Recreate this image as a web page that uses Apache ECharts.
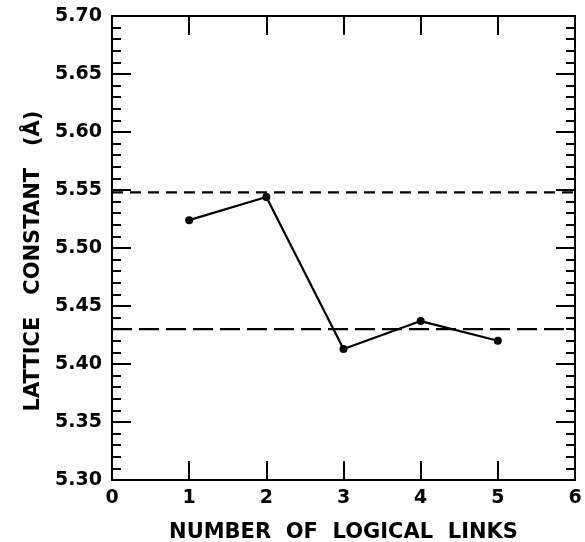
<!DOCTYPE html>
<html>
<head>
<meta charset="utf-8">
<script src="https://cdn.jsdelivr.net/npm/echarts@6/dist/echarts.min.js"></script>
<style>html,body{margin:0;padding:0;background:#fff;}#c{width:585px;height:542px;}</style>
</head>
<body>
<div id="c"></div>
<script>
var links = [1, 2, 3, 4, 5];
var latticeConstant = [5.524, 5.544, 5.413, 5.437, 5.420];
var refUpper = 5.548;
var refLower = 5.430;
var xTicks = [0, 1, 2, 3, 4, 5, 6];
var yTicks = ['5.30','5.35','5.40','5.45','5.50','5.55','5.60','5.65','5.70'];

var chart = echarts.init(document.getElementById('c'), null, {renderer: 'canvas'});
var font = 'DejaVu Sans';
var pts = links.map(function (x, i) { return [x, latticeConstant[i]]; });
var xmin = xTicks[0], xmax = xTicks[xTicks.length - 1];
var ymin = parseFloat(yTicks[0]), ymax = parseFloat(yTicks[yTicks.length - 1]);

function xAx(pos, show) {
  return {
    type: 'value', position: pos, min: xmin, max: xmax, interval: 1,
    name: show ? 'NUMBER  OF  LOGICAL  LINKS' : '',
    nameLocation: 'middle', nameGap: 42,
    nameTextStyle: {fontFamily: font, fontSize: 21, fontWeight: 'bold', color: '#000'},
    axisLine: {show: true, onZero: false, lineStyle: {color: '#000', width: 2}},
    axisTick: {show: true, inside: true, length: 19, lineStyle: {color: '#000', width: 2}},
    axisLabel: {show: show, fontFamily: font, fontSize: 19, fontWeight: 'bold', color: '#000', margin: 9},
    splitLine: {show: false}
  };
}
function yAx(pos, show) {
  return {
    type: 'value', position: pos, min: ymin, max: ymax, interval: 0.05,
    name: show ? 'LATTICE   CONSTANT   (Å)' : '',
    nameLocation: 'middle', nameGap: 66, nameRotate: 90,
    nameTextStyle: {fontFamily: font, fontSize: 21, fontWeight: 'bold', color: '#000', padding: [0, 26, 0, 0]},
    axisLine: {show: true, onZero: false, lineStyle: {color: '#000', width: 2}},
    axisTick: {show: true, inside: true, length: 19, lineStyle: {color: '#000', width: 2}},
    minorTick: {show: true, splitNumber: 5, length: 9, lineStyle: {color: '#000', width: 2}},
    axisLabel: {show: show, fontFamily: font, fontSize: 19, fontWeight: 'bold', color: '#000', margin: 10,
      formatter: function (v) { return v.toFixed(2); }},
    splitLine: {show: false}
  };
}

chart.setOption({
  backgroundColor: '#fff',
  animation: false,
  grid: {left: 112, right: 10, top: 16, bottom: 62, outerBoundsMode: 'none', containLabel: false},
  xAxis: [xAx('bottom', true), xAx('top', false)],
  yAxis: [yAx('left', true), yAx('right', false)],
  series: [
    {type: 'line', data: [[xmin, refUpper], [xmax, refUpper]], symbol: 'none',
      lineStyle: {color: '#000', width: 2.2, type: [11, 7]}},
    {type: 'line', data: [[xmin, refLower], [xmax, refLower]], symbol: 'none',
      lineStyle: {color: '#000', width: 2.2, type: [20, 7]}},
    {type: 'line', data: pts, symbol: 'circle', symbolSize: 8,
      itemStyle: {color: '#000'}, lineStyle: {color: '#000', width: 2.2}}
  ]
});
</script>
</body>
</html>
